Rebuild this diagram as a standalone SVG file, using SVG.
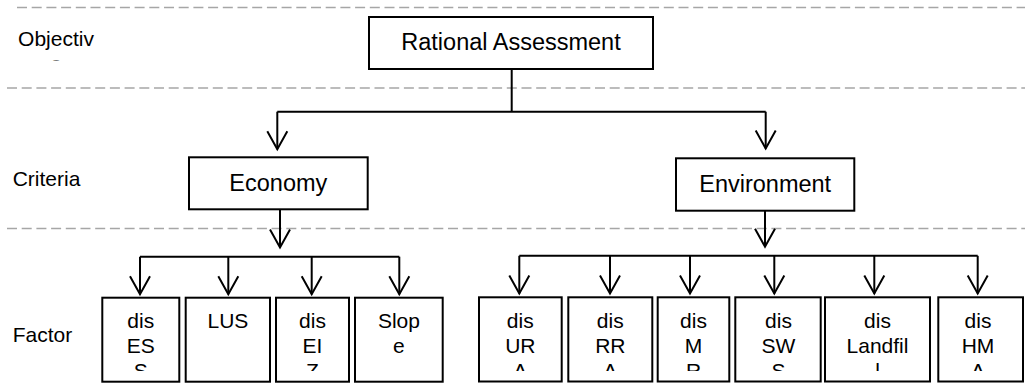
<svg xmlns="http://www.w3.org/2000/svg" width="1025" height="389" viewBox="0 0 1025 389">
<style>
.bg{fill:#fff}
.box{fill:#fff;stroke:#000;stroke-width:2}
.t{font-family:"Liberation Sans",Arial,sans-serif;font-size:21px;fill:#000;text-anchor:middle}
.lab{font-family:"Liberation Sans",Arial,sans-serif;font-size:21px;fill:#000}
.title{font-size:23.5px}
.conn{stroke:#000;stroke-width:2;fill:none}
.dash{stroke:#a6a6a6;stroke-width:1.3;stroke-dasharray:10 4.7;fill:none}
</style>
<defs>
<marker id="arr" markerUnits="userSpaceOnUse" markerWidth="20" markerHeight="22" viewBox="-19 -11 20 22" refX="0" refY="0" orient="auto" overflow="visible">
<path d="M-18,-10 L0,0 L-18,10" fill="none" stroke="#000" stroke-width="2"/>
</marker>
<clipPath id="clipObj"><rect x="0" y="0" width="120" height="60.5"/></clipPath>
<clipPath id="clipF"><rect x="90" y="290" width="935" height="81"/></clipPath>
</defs>
<rect class="bg" x="0" y="0" width="1025" height="389"/>
<g id="bands">
<path class="dash" d="M17,7.5 H1025"/>
<path class="dash" d="M7,88 H1025"/>
<path class="dash" d="M7,228.5 H1025"/>
</g>
<g id="labels">
<text class="t" x="56" y="46" clip-path="url(#clipObj)"><tspan x="56">Objectiv</tspan><tspan x="56" dy="25">e</tspan></text>
<text class="lab" x="12.7" y="185.7">Criteria</text>
<text class="lab" x="12.7" y="342">Factor</text>
</g>
<g id="connectors">
<path class="conn" d="M511.7,69 V111.7 M277.3,111.7 H765.7"/>
<path class="conn" d="M277.3,111.7 V149.3" marker-end="url(#arr)"/>
<path class="conn" d="M765.7,111.7 V148.5" marker-end="url(#arr)"/>
<path class="conn" d="M280,209.3 V247.5" marker-end="url(#arr)"/>
<path class="conn" d="M140,256.7 H399.3"/>
<path class="conn" d="M140,256.7 V294.3" marker-end="url(#arr)"/>
<path class="conn" d="M228.3,256.7 V294.3" marker-end="url(#arr)"/>
<path class="conn" d="M311.7,256.7 V294.3" marker-end="url(#arr)"/>
<path class="conn" d="M399.3,256.7 V294.3" marker-end="url(#arr)"/>
<path class="conn" d="M765,210.7 V246.7" marker-end="url(#arr)"/>
<path class="conn" d="M519.3,255.8 H977.7"/>
<path class="conn" d="M519.3,255.8 V293.5" marker-end="url(#arr)"/>
<path class="conn" d="M610,255.8 V293.5" marker-end="url(#arr)"/>
<path class="conn" d="M690,255.8 V293.5" marker-end="url(#arr)"/>
<path class="conn" d="M774.3,255.8 V293.5" marker-end="url(#arr)"/>
<path class="conn" d="M874.3,255.8 V293.5" marker-end="url(#arr)"/>
<path class="conn" d="M977.7,255.8 V293.5" marker-end="url(#arr)"/>
</g>
<g id="rational">
<rect class="box" x="369" y="17" width="284" height="52"/>
<text class="t title" x="511" y="50">Rational Assessment</text>
</g>
<g id="economy">
<rect class="box" x="189" y="157.3" width="178.7" height="52"/>
<text class="t title" x="278.3" y="191">Economy</text>
</g>
<g id="environment">
<rect class="box" x="676" y="158.3" width="178.3" height="52.4"/>
<text class="t title" x="765.2" y="191.5">Environment</text>
</g>
<g id="disESS">
<rect class="box" x="102.3" y="297.7" width="77" height="84"/>
<text class="t" y="328.3" clip-path="url(#clipF)"><tspan x="140.8">dis</tspan><tspan x="140.8" dy="25">ES</tspan><tspan x="140.8" dy="25">S</tspan></text>
</g>
<g id="LUS">
<rect class="box" x="185.7" y="297.7" width="84.3" height="84"/>
<text class="t" x="227.9" y="328.3">LUS</text>
</g>
<g id="disEIZ">
<rect class="box" x="276" y="297.7" width="73" height="84"/>
<text class="t" y="328.3" clip-path="url(#clipF)"><tspan x="312.5">dis</tspan><tspan x="312.5" dy="25">EI</tspan><tspan x="312.5" dy="25">Z</tspan></text>
</g>
<g id="Slope">
<rect class="box" x="355" y="297.7" width="87.7" height="84"/>
<text class="t" y="328.3"><tspan x="398.9">Slop</tspan><tspan x="398.9" dy="25">e</tspan></text>
</g>
<g id="disURA">
<rect class="box" x="479" y="297.3" width="82.7" height="84.2"/>
<text class="t" y="328.3" clip-path="url(#clipF)"><tspan x="520.3">dis</tspan><tspan x="520.3" dy="25">UR</tspan><tspan x="520.3" dy="25">A</tspan></text>
</g>
<g id="disRRA">
<rect class="box" x="568.3" y="297.3" width="84" height="84.2"/>
<text class="t" y="328.3" clip-path="url(#clipF)"><tspan x="610.3">dis</tspan><tspan x="610.3" dy="25">RR</tspan><tspan x="610.3" dy="25">A</tspan></text>
</g>
<g id="disMR">
<rect class="box" x="657.7" y="297.3" width="71.6" height="84.2"/>
<text class="t" y="328.3" clip-path="url(#clipF)"><tspan x="693.5">dis</tspan><tspan x="693.5" dy="25">M</tspan><tspan x="693.5" dy="25">R</tspan></text>
</g>
<g id="disSWS">
<rect class="box" x="735.3" y="297.3" width="85.4" height="84.2"/>
<text class="t" y="328.3" clip-path="url(#clipF)"><tspan x="778.5">dis</tspan><tspan x="778.5" dy="25">SW</tspan><tspan x="778.5" dy="25">S</tspan></text>
</g>
<g id="disLandfill">
<rect class="box" x="825" y="297.3" width="105" height="84.2"/>
<text class="t" y="328.3" clip-path="url(#clipF)"><tspan x="877.5">dis</tspan><tspan x="877.5" dy="25">Landfil</tspan><tspan x="877.5" dy="25">l</tspan></text>
</g>
<g id="disHMA">
<rect class="box" x="938.3" y="297.3" width="84.7" height="84.2"/>
<text class="t" y="328.3" clip-path="url(#clipF)"><tspan x="978">dis</tspan><tspan x="978" dy="25">HM</tspan><tspan x="978" dy="25">A</tspan></text>
</g>
</svg>
